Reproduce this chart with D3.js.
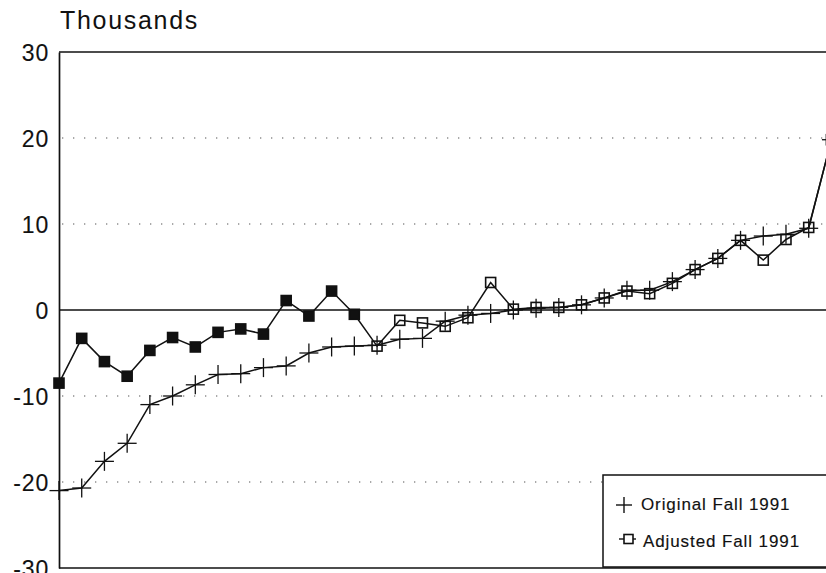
<!DOCTYPE html>
<html>
<head>
<meta charset="utf-8">
<script src="https://cdn.jsdelivr.net/npm/d3@7"></script>
<style>
  html, body { margin: 0; padding: 0; background: #fff; }
  svg { display: block; }
  text { font-family: "Liberation Sans", Arial, Helvetica, sans-serif; fill: #111; }
</style>
</head>
<body>
<svg id="chart" width="826" height="573"></svg>
<script>
// ---- data (values in thousands) ----
const categories = d3.range(35); // ordered units along the x axis (no labels shown)
const originalFall1991 = [-21.0, -20.7, -17.6, -15.5, -11.0, -10.0, -8.7, -7.5, -7.4, -6.7,
  -6.5, -5.0, -4.3, -4.2, -4.1, -3.4, -3.3, -1.3, -0.6, -0.4,
  0.0, 0.2, 0.3, 0.6, 1.4, 2.3, 2.3, 3.3, 4.7, 6.0,
  8.1, 8.6, 8.8, 9.5, 19.8];
const adjustedFall1991 = [-8.5, -3.3, -6.0, -7.7, -4.7, -3.2, -4.3, -2.6, -2.2, -2.8,
  1.1, -0.7, 2.2, -0.5, -4.2, -1.2, -1.5, -1.9, -0.9, 3.2,
  0.1, 0.3, 0.3, 0.6, 1.4, 2.2, 1.9, 3.1, 4.7, 6.0,
  8.1, 5.8, 8.2, 9.6, 19.8];
const yTicks = [30, 20, 10, 0, -10, -20, -30];
const gridValues = [20, 10, -10, -20];
const seriesNames = ["Original Fall 1991", "Adjusted Fall 1991"];
const yTitle = "Thousands";

(function () {
// ---- layout ----
const svg = d3.select("#chart");
const W = 826;
const mLeft = 59, mTop = 52, mBottom = 568;
const x = d3.scaleLinear().domain([0, 33]).range([59, 808.7]);
const y = d3.scaleLinear().domain([-30, 30]).range([mBottom, mTop]);

// grid (dotted)
svg.append("g").selectAll("line").data(gridValues).join("line")
  .attr("x1", mLeft + 3).attr("x2", W)
  .attr("y1", d => y(d)).attr("y2", d => y(d))
  .attr("stroke", "#555").attr("stroke-width", 1.1)
  .attr("stroke-dasharray", "1.3,9.7");

// zero line
svg.append("line").attr("x1", mLeft).attr("x2", W)
  .attr("y1", y(0)).attr("y2", y(0))
  .attr("stroke", "#111").attr("stroke-width", 1.3);

// frame: top, bottom
svg.append("line").attr("x1", mLeft).attr("x2", W).attr("y1", y(30)).attr("y2", y(30))
  .attr("stroke", "#111").attr("stroke-width", 1.5);
svg.append("line").attr("x1", mLeft).attr("x2", W).attr("y1", y(-30)).attr("y2", y(-30))
  .attr("stroke", "#111").attr("stroke-width", 1.5);

// y axis via d3
const yAxis = d3.axisLeft(y).tickValues(yTicks).tickSize(0).tickPadding(10).tickFormat(d => String(d));
const ga = svg.append("g").attr("transform", `translate(${mLeft},0)`).call(yAxis);
ga.select(".domain").attr("stroke", "#111").attr("stroke-width", 1.7);
ga.selectAll("text").attr("font-size", 23).attr("font-family", "Liberation Sans, Arial, sans-serif")
  .attr("fill", "#111").attr("stroke", "#111").attr("stroke-width", 0.12)
  .attr("letter-spacing", 0.8).attr("dy", "0.36em");

// title
svg.append("text").attr("x", 60).attr("y", 29).attr("font-size", 25)
  .attr("letter-spacing", 1.7).text(yTitle);

// lines
const line = d3.line().x((d, i) => x(i)).y(d => y(d));
svg.append("path").datum(adjustedFall1991).attr("d", line)
  .attr("fill", "none").attr("stroke", "#111").attr("stroke-width", 1.5);
svg.append("path").datum(originalFall1991).attr("d", line)
  .attr("fill", "none").attr("stroke", "#111").attr("stroke-width", 1.5);

// adjusted markers: squares
const sq = 10;
svg.append("g").selectAll("rect").data(adjustedFall1991).join("rect")
  .attr("x", (d, i) => x(i) - sq / 2).attr("y", d => y(d) - sq / 2)
  .attr("width", sq).attr("height", sq)
  .attr("fill", (d, i) => i <= 13 ? "#111" : "none")
  .attr("stroke", "#111").attr("stroke-width", 1.6);

// original markers: plus
const ps = 9.5;
const pg = svg.append("g");
originalFall1991.forEach((d, i) => {
  pg.append("line").attr("x1", x(i) - ps).attr("x2", x(i) + ps).attr("y1", y(d)).attr("y2", y(d))
    .attr("stroke", "#111").attr("stroke-width", 1.3);
  pg.append("line").attr("x1", x(i)).attr("x2", x(i)).attr("y1", y(d) - ps).attr("y2", y(d) + ps)
    .attr("stroke", "#111").attr("stroke-width", 1.3);
});

// legend
const lg = svg.append("g");
lg.append("rect").attr("x", 603).attr("y", 475).attr("width", 240).attr("height", 92)
  .attr("fill", "#fff").attr("stroke", "#111").attr("stroke-width", 1.5);
lg.append("line").attr("x1", 616).attr("x2", 632).attr("y1", 505).attr("y2", 505).attr("stroke", "#111").attr("stroke-width", 1.4);
lg.append("line").attr("x1", 624).attr("x2", 624).attr("y1", 497).attr("y2", 513).attr("stroke", "#111").attr("stroke-width", 1.4);
lg.append("line").attr("x1", 619).attr("x2", 636).attr("y1", 539).attr("y2", 539).attr("stroke", "#111").attr("stroke-width", 1.4);
lg.append("rect").attr("x", 624).attr("y", 534.5).attr("width", 9).attr("height", 9)
  .attr("fill", "#fff").attr("stroke", "#111").attr("stroke-width", 1.6);
lg.selectAll("text.lab").data(seriesNames).join("text").attr("class", "lab")
  .attr("x", (d, i) => i === 0 ? 641 : 643).attr("y", (d, i) => i === 0 ? 510 : 547)
  .attr("font-size", 17).attr("letter-spacing", 0.9)
  .attr("stroke", "#111").attr("stroke-width", 0.15).text(d => d);
})();
</script>
</body>
</html>
